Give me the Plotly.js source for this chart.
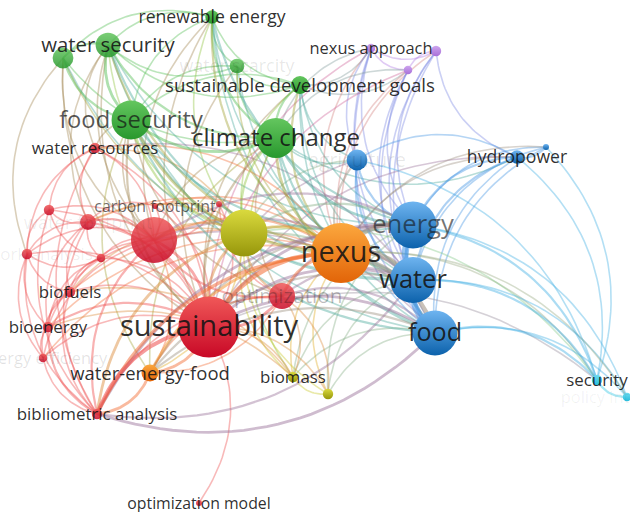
<!DOCTYPE html>
<html><head><meta charset="utf-8">
<script src="https://cdn.plot.ly/plotly-3.0.1.min.js"></script>
<style>html,body{margin:0;padding:0;background:#fff}#chart{width:630px;height:512px}</style>
</head><body><div id="chart"></div>
<script>
// ---------- data: keyword co-occurrence map ----------
const labels = ["renewable energy","water security","","water scarcity","sustainable development goals","food security","climate change",
  "nexus approach","","","agriculture","hydropower","","energy","water","food","nexus","water-energy-food","","biomass","",
  "sustainability","","carbon footprint","","optimization","water resources","","water footprint","network analysis","",
  "biofuels","bioenergy","energy efficiency","bibliometric analysis","optimization model","security","policy integration"];
const cluster = ["g","g","g","g","g","g","g","p","p","p","b","b","b","b","b","b","o","o","y","y","y",
  "r","r","r","r","r","r","r","r","r","r","r","r","r","r","r","c","c"];
const mapX = [212,108,63,237,300,131,276,371,436,408,357,517,546,413,413,435,341,150,244,293,328,
  209,154,155,219,282,95,49,88,27,101,70,48,43,97,199,597,627];
const mapY = [17,45,58,66,85,120,138,48,51,70,160,157,147,225,280,333,253,373,233,377,394,
  327,240,206,204,296,148,210,222,254,258,292,327,358,414,503,380,397];
const occurrences = [5,17,12,6,9,42,44,2,3,2,12,5,1,61,59,56,100,8,61,3,3,
  104,59,1,1,19,3,3,7,3,2,3,3,2,3,1,3,2];
const edges = [
 [0,1,1],[0,2,1],[0,4,1],[0,5,1],[0,6,2],[0,3,1],[1,2,2],[1,5,3],[1,6,2],[1,4,1],[1,3,1],
 [2,5,2],[2,6,1],[3,6,1],[3,4,1],[3,5,1],[4,6,2],[4,5,1],[5,6,3],
 [0,16,2],[0,13,2],[0,14,1],[0,18,1],[0,21,1],[0,22,1],[0,15,1],
 [1,16,2],[1,14,2],[1,15,1],[1,13,1],[1,21,1],[1,18,1],[1,22,1],[1,26,1],[1,28,1],
 [2,16,1],[2,21,1],[2,22,1],[2,29,1],[2,14,1],[3,16,1],[3,14,1],[3,21,1],
 [4,16,2],[4,13,1],[4,14,1],[4,15,1],[4,21,1],[4,18,1],[4,7,1],[4,9,1],[4,10,1],
 [5,16,3],[5,14,2],[5,15,2],[5,13,2],[5,21,2],[5,18,2],[5,22,1],[5,26,1],[5,25,1],[5,17,1],
 [6,16,3],[6,13,3],[6,14,2],[6,15,2],[6,21,2],[6,18,2],[6,22,1],[6,10,1],[6,11,1],[6,25,1],[6,19,1],[6,17,1],
 [7,8,1],[7,9,1],[8,9,1],[7,16,1],[7,13,1],[7,14,1],[7,15,1],[7,6,1],[7,21,1],[7,10,1],
 [8,16,1],[8,14,1],[8,15,1],[8,13,1],[8,11,1],[9,16,1],[9,13,1],[9,14,1],[9,15,1],[9,21,1],[9,6,1],
 [10,13,2],[10,14,2],[10,15,1],[10,16,2],[10,18,1],[10,21,1],
 [11,10,1],[11,12,1],[11,13,2],[11,14,2],[11,15,1],[11,16,1],[11,21,1],
 [12,13,1],[12,14,1],[12,16,1],[12,15,1],
 [13,14,8],[14,15,8],[13,15,5],[13,16,6],[14,16,7],[15,16,6],
 [13,21,3],[13,18,2],[13,22,2],[13,25,2],[13,17,2],[13,19,1],[13,20,1],
 [14,21,3],[14,18,2],[14,22,2],[14,25,2],[14,17,2],[14,19,1],[14,20,1],[14,26,1],
 [15,21,3],[15,18,2],[15,22,1],[15,25,2],[15,17,2],[15,19,1],[15,20,1],
 [34,15,3],[34,14,2],[13,34,3],
 [36,37,2],[36,13,2],[36,14,2],[36,15,2],[36,16,1],[36,11,1],[36,12,1],[36,10,1],[36,21,1],[36,18,1],
 [37,14,1],[37,15,1],[37,13,1],[37,16,1],
 [16,21,6],[16,18,3],[16,22,2],[16,25,3],[16,17,3],[16,34,4],[16,19,1],[16,20,1],[16,26,1],[16,28,1],
 [16,31,1],[16,32,1],[16,23,1],[16,33,1],
 [17,21,3],[17,25,1],[17,18,1],[17,22,1],[34,17,3],
 [18,21,3],[18,22,2],[18,25,2],[18,19,1],[18,20,1],[18,34,3],[18,26,1],[18,28,1],[18,23,1],[18,31,1],
 [19,20,1],[19,21,1],[19,31,1],[19,32,1],[19,25,1],[20,21,1],[20,25,1],
 [21,22,3],[21,25,3],[21,34,5],[21,31,1],[21,32,2],[21,33,1],[35,21,1],[21,26,1],[21,27,1],[21,28,2],
 [21,29,1],[21,30,1],[21,23,1],[21,24,1],
 [22,23,1],[22,24,1],[22,25,2],[22,26,1],[22,27,1],[22,28,2],[22,29,1],[22,30,1],[22,31,1],[22,32,1],[22,33,1],[22,34,2],
 [23,28,1],[24,25,1],[26,27,1],[26,28,1],[26,34,1],[26,29,1],[27,28,1],[27,29,1],[27,30,1],[27,34,1],
 [28,29,1],[28,30,1],[28,31,1],[28,32,1],[28,34,1],[29,30,1],[29,31,1],[29,32,1],[29,33,1],[29,34,1],
 [30,31,1],[30,32,1],[31,32,1],[31,34,1],[31,33,1],[32,33,1],[32,34,2],[33,34,1],[25,34,1],[25,17,1]
];

// ---------- styles ----------
const clusterTop    = {g:[100,198,95], p:[205,165,238], b:[110,180,240], o:[252,168,62], y:[218,218,62], r:[240,88,88], c:[110,220,240]};
const clusterBottom = {g:[40,152,45],  p:[168,112,216], b:[12,98,172],   o:[226,100,8],  y:[150,150,10], r:[200,8,38],  c:[38,188,220]};
const clusterEdge   = {g:[85,190,85],  p:[178,125,228], b:[70,150,228],  o:[245,140,30], y:[200,200,40], r:[238,80,80], c:[60,200,228]};
const labelAlpha = {"energy":0.6,"food security":0.72,"carbon footprint":0.65,"optimization":0.28,"water scarcity":0.1,
  "agriculture":0.1,"water footprint":0.08,"network analysis":0.08,"energy efficiency":0.12,"policy integration":0.06};
const softNodes = new Set([1,2,3,22,23,24,25,26,27,28,29,30,31,32,33,34,35]);
const labelDrop = 2;   // px: centre text glyphs on the node

const rgb = (a, al) => al === undefined ? `rgb(${a[0]},${a[1]},${a[2]})` : `rgba(${a[0]},${a[1]},${a[2]},${al})`;
const radius = i => 3 * Math.sqrt(occurrences[i]);

const traces = [];
const sorted = edges.slice().sort((a,b) => a[2]-b[2]);
sorted.forEach(([s,t,w]) => {
  const x0 = mapX[s], y0 = mapY[s], x1 = mapX[t], y1 = mapY[t];
  const dx = x1-x0, dy = y1-y0;
  const cx = (x0+x1)/2 - 0.3*dy, cy = (y0+y1)/2 + 0.3*dx;
  const xs = [], ys = [];
  for (let k=0;k<=30;k++){ const u=k/30, v=1-u;
    xs.push(v*v*x0 + 2*u*v*cx + u*u*x1); ys.push(v*v*y0 + 2*u*v*cy + u*u*y1); }
  const a = clusterEdge[cluster[s]], b = clusterEdge[cluster[t]];
  const col = [0,1,2].map(j => Math.round((a[j]+b[j])/2));
  traces.push({type:'scatter', mode:'lines', x:xs, y:ys, hoverinfo:'skip', showlegend:false,
    line:{color:rgb(col, 0.36 + 0.04*Math.min(w,5)), width:1.0 + 0.6*w, shape:'linear'}});
});

// nodes: small first, large on top
const order = occurrences.map((v,i)=>i).sort((a,b)=>occurrences[a]-occurrences[b]);
order.forEach(i => {
  traces.push({type:'scatter', mode:'markers', x:[mapX[i]], y:[mapY[i]], hoverinfo:'skip', showlegend:false,
    opacity: softNodes.has(i) ? 0.85 : 1,
    marker:{size: 2*radius(i), color: rgb(clusterTop[cluster[i]]),
      gradient:{type:'vertical', color: rgb(clusterBottom[cluster[i]])}, line:{width:0}}});
});

// labels
const li = labels.map((l,i)=>i).filter(i => labels[i] !== "");
traces.push({type:'scatter', mode:'text', hoverinfo:'skip', showlegend:false,
  x: li.map(i=>mapX[i]), y: li.map(i=>mapY[i] + labelDrop), text: li.map(i=>labels[i]), textposition:'middle center',
  textfont:{family:'"Open Sans", sans-serif',
    size: li.map(i => 14.4 + 0.48*radius(i)),
    color: li.map(i => `rgba(20,20,20,${labelAlpha[labels[i]] !== undefined ? labelAlpha[labels[i]] : 0.9})`)}});

const ax = {visible:false, showgrid:false, zeroline:false, fixedrange:true};
Plotly.newPlot('chart', traces, {
  width:630, height:512, margin:{l:0,r:0,t:0,b:0},
  paper_bgcolor:'#fff', plot_bgcolor:'#fff', showlegend:false,
  xaxis:Object.assign({range:[0,630]}, ax), yaxis:Object.assign({range:[512,0]}, ax)
}, {staticPlot:true, displayModeBar:false});
</script></body></html>
